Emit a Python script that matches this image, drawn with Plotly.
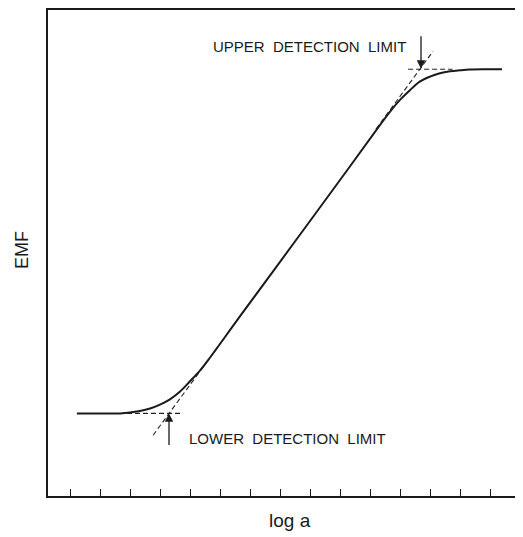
import plotly.graph_objects as go

# Response curve (EMF vs log a)
log_a = [1.23, 2.00, 2.67, 3.33, 3.67, 4.00, 4.33, 4.67, 5.00, 5.33, 5.67,
         6.67, 8.67, 10.33, 11.33, 11.67, 12.00, 12.33, 12.67, 13.00, 13.33,
         13.67, 14.00, 14.33, 14.83, 15.40]
emf = [17.0, 17.0, 17.0, 17.5, 18.0, 18.8, 19.9, 21.5, 23.6, 25.8, 28.5,
       37.0, 53.8, 67.8, 76.3, 79.1, 81.5, 83.5, 85.3, 86.3, 87.0,
       87.4, 87.6, 87.75, 87.8, 87.8]

# Asymptote (dashed) construction lines
lower_flat_x = [2.90, 4.77]
lower_flat_y = [17.0, 17.0]
upper_flat_x = [12.27, 13.75]
upper_flat_y = [87.8, 87.8]
lower_slope_x = [3.77, 6.0]
lower_slope_y = [12.5, 31.3]
upper_slope_x = [11.2, 13.1]
upper_slope_y = [75.5, 91.5]

# Detection limit markers: (x, arrow tail y, arrow tip y)
lower_limit = (4.30, 10.2, 17.0)
upper_limit = (12.70, 94.9, 87.9)
lower_label = "LOWER\u00a0\u00a0DETECTION\u00a0\u00a0LIMIT"
upper_label = "UPPER\u00a0\u00a0DETECTION\u00a0\u00a0LIMIT"

tick_positions = list(range(1, 17))

FONT = "Liberation Sans, Arial, Helvetica, sans-serif"
INK = "#1a1a1a"

fig = go.Figure()
dash_style = dict(color="#222222", width=1.1, dash="5px,3px")
for xs, ys in [(lower_flat_x, lower_flat_y), (upper_flat_x, upper_flat_y),
               (lower_slope_x, lower_slope_y), (upper_slope_x, upper_slope_y)]:
    fig.add_trace(go.Scatter(x=xs, y=ys, mode="lines", line=dash_style,
                             hoverinfo="skip", showlegend=False))

fig.add_trace(go.Scatter(x=log_a, y=emf, mode="lines",
                         line=dict(color=INK, width=2, shape="spline", smoothing=1),
                         showlegend=False))

annotations = []
for (xv, tail, tip) in [lower_limit, upper_limit]:
    annotations.append(dict(x=xv, y=tip, ax=xv, ay=tail, xref="x", yref="y",
                            axref="x", ayref="y", text="", showarrow=True,
                            arrowhead=2, arrowsize=1.3, arrowwidth=1.3,
                            arrowcolor=INK))
annotations.append(dict(x=12.27, y=92.4, xref="x", yref="y", text=upper_label,
                        showarrow=False, xanchor="right", yanchor="middle",
                        font=dict(family=FONT, size=15, color=INK)))
annotations.append(dict(x=4.9, y=11.9, xref="x", yref="y", text=lower_label,
                        showarrow=False, xanchor="left", yanchor="middle",
                        font=dict(family=FONT, size=15, color=INK)))
annotations.append(dict(x=-0.0558, y=0.507, xref="paper", yref="paper",
                        text="EMF", textangle=-90, showarrow=False,
                        xanchor="center", yanchor="middle",
                        font=dict(family=FONT, size=18, color=INK)))
annotations.append(dict(x=0.5095, y=-0.0512, xref="paper", yref="paper",
                        text="log a", showarrow=False,
                        xanchor="center", yanchor="middle",
                        font=dict(family=FONT, size=19, color=INK)))

# page body has an 8px margin, so the figure is drawn 8px smaller
fig.update_layout(
    width=515, height=529,
    margin=dict(l=40, r=0, t=0, b=41),
    paper_bgcolor="white", plot_bgcolor="white",
    showlegend=False,
    annotations=annotations,
    xaxis=dict(range=[0.2667, 16.1], showgrid=False, zeroline=False,
               showline=True, linecolor=INK, linewidth=1.5, mirror=True,
               ticks="inside", ticklen=7, tickwidth=1.2, tickcolor=INK,
               tickvals=tick_positions, showticklabels=False),
    yaxis=dict(range=[0, 100], showgrid=False, zeroline=False,
               showline=True, linecolor=INK, linewidth=1.5,
               ticks="", showticklabels=False),
)

fig.write_html("out.html")
